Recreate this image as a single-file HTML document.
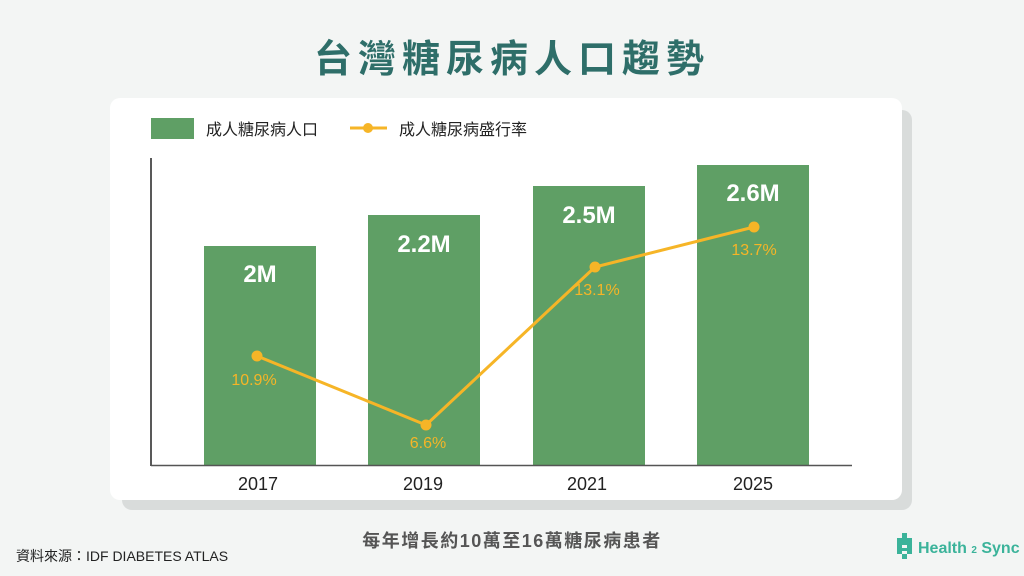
<!DOCTYPE html>
<html><head><meta charset="utf-8"><style>
html,body{margin:0;padding:0}
body{width:1024px;height:576px;background:#f3f5f4;position:relative;overflow:hidden;font-family:"Liberation Sans","Noto Sans CJK TC",sans-serif}
</style></head><body>
<svg width="1024" height="576" style="position:absolute;left:0;top:0" font-family="'Liberation Sans','Noto Sans CJK TC',sans-serif">
<text x="512" y="72" text-anchor="middle" font-size="38" font-weight="bold" fill="#2e6e69" letter-spacing="6">台灣糖尿病人口趨勢</text>
<rect x="122" y="110" width="790" height="400" rx="10" fill="#d9dcdb"/>
<rect x="110" y="98" width="792" height="402" rx="10" fill="#ffffff"/>
<rect x="151" y="118" width="43" height="21" fill="#5f9f65"/>
<text x="206" y="135" font-size="16" fill="#222">成人糖尿病人口</text>
<line x1="350" y1="128" x2="387" y2="128" stroke="#f6b527" stroke-width="3"/>
<circle cx="368" cy="128" r="5" fill="#f6b527"/>
<text x="399" y="135" font-size="16" fill="#222">成人糖尿病盛行率</text>
<g fill="#5f9f65">
<rect x="204" y="246" width="112" height="219"/>
<rect x="368" y="215" width="112" height="250"/>
<rect x="533" y="186" width="112" height="279"/>
<rect x="697" y="165" width="112" height="300"/>
</g>
<line x1="151" y1="158" x2="151" y2="466" stroke="#222" stroke-width="1.5"/>
<line x1="151" y1="465.5" x2="852" y2="465.5" stroke="#555" stroke-width="1.5"/>
<g fill="#fff" font-size="24" font-weight="bold" text-anchor="middle">
<text x="260" y="282">2M</text>
<text x="424" y="252">2.2M</text>
<text x="589" y="223">2.5M</text>
<text x="753" y="201">2.6M</text>
</g>
<polyline points="257,356 426,425 595,267 754,227" fill="none" stroke="#f6b527" stroke-width="3"/>
<g fill="#f6b527"><circle cx="257" cy="356" r="5.5"/><circle cx="426" cy="425" r="5.5"/><circle cx="595" cy="267" r="5.5"/><circle cx="754" cy="227" r="5.5"/></g>
<g fill="#f6b527" font-size="16" text-anchor="middle">
<text x="254" y="385">10.9%</text>
<text x="428" y="448">6.6%</text>
<text x="597" y="295">13.1%</text>
<text x="754" y="255">13.7%</text>
</g>
<g fill="#222" font-size="18" text-anchor="middle">
<text x="258" y="490">2017</text>
<text x="423" y="490">2019</text>
<text x="587" y="490">2021</text>
<text x="753" y="490">2025</text>
</g>
<text x="512" y="547" text-anchor="middle" font-size="18" font-weight="bold" fill="#555" letter-spacing="1.5">每年增長約10萬至16萬糖尿病患者</text>
<text x="16" y="561" font-size="14" fill="#222">資料來源：IDF DIABETES ATLAS</text>
<g fill="#3bb39a">
<rect x="902" y="533" width="5" height="5"/><rect x="897" y="538" width="15" height="7"/>
<rect x="897" y="545" width="5" height="9"/><rect x="907" y="545" width="5" height="9"/>
<rect x="902" y="548" width="5" height="3"/>
<rect x="902" y="554" width="5" height="5"/>
</g>
<text x="918" y="553" font-size="16" font-weight="bold" fill="#3bb39a">Health <tspan font-size="10">2</tspan> Sync</text>
</svg>
</body></html>
